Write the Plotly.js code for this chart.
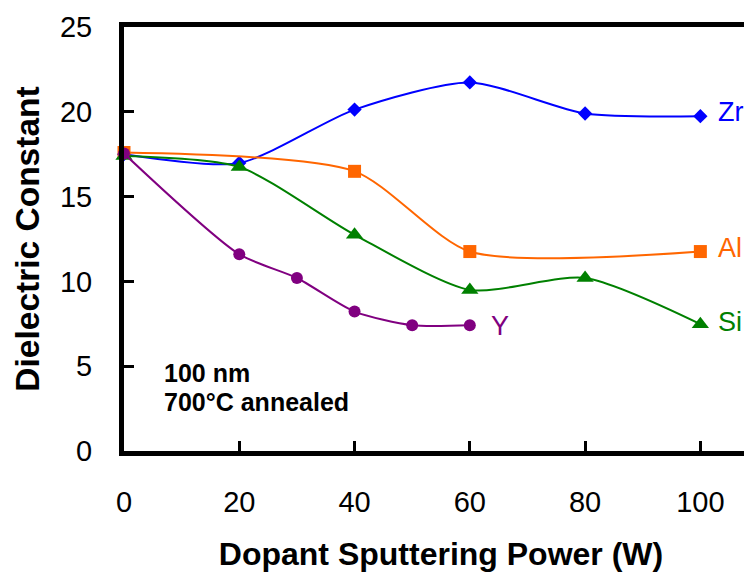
<!DOCTYPE html>
<html>
<head>
<meta charset="utf-8">
<script src="https://cdn.plot.ly/plotly-3.0.1.min.js"></script>
<style>
html, body { margin: 0; padding: 0; overflow: hidden; background: #fff; }
#chart { width: 770px; height: 575px; }
</style>
</head>
<body>
<div id="chart"></div>
<script>
// Data
const zrX = [0, 20, 40, 60, 80, 100];
const zrY = [17.5, 16.98, 20.13, 21.73, 19.9, 19.74];
const alX = [0, 40, 60, 100];
const alY = [17.6, 16.49, 11.76, 11.76];
const siX = [0, 20, 40, 60, 80, 100];
const siY = [17.4, 16.75, 12.75, 9.5, 10.2, 7.48];
const yX = [0, 20, 30, 40, 50, 60];
const yY = [17.54, 11.6, 10.2, 8.22, 7.42, 7.42];

const seriesNames = ['Zr', 'Al', 'Si', 'Y'];
const xTickVals = [0, 20, 40, 60, 80, 100];
const yTickVals = [0, 5, 10, 15, 20, 25];

const FONT = '"Liberation Sans", Arial, sans-serif';
const colors = { Zr: '#0000FF', Al: '#FF6600', Si: '#008000', Y: '#800080' };

function trace(name, x, y, symbol, size) {
  return {
    type: 'scatter', mode: 'lines+markers', name: name, x: x, y: y,
    line: { color: colors[name], width: 2, shape: 'spline', smoothing: 0.7 },
    marker: { color: colors[name], symbol: symbol, size: size },
    cliponaxis: false, showlegend: false, hoverinfo: 'x+y'
  };
}

const data = [
  trace('Zr', zrX, zrY, 'diamond', 11),
  trace('Al', alX, alY, 'square', 13),
  trace('Si', siX, siY, 'triangle-up', 15),
  trace('Y', yX, yY, 'circle', 12)
];

const layout = {
  width: 770, height: 575,
  margin: { l: 124, r: 12, t: 27, b: 124 },
  paper_bgcolor: '#fff', plot_bgcolor: '#fff',
  font: { family: FONT, color: '#000' },
  showlegend: false,
  xaxis: {
    range: [0, 110], tickvals: xTickVals, ticktext: xTickVals.map(String),
    showgrid: false, zeroline: false,
    showline: true, linecolor: '#000', linewidth: 5, mirror: true,
    ticks: 'inside', ticklen: 10, tickwidth: 3, tickcolor: '#000',
    tickfont: { size: 29, family: FONT, color: '#000' },
    ticklabelstandoff: 21,
    title: { text: '<b>Dopant Sputtering Power (W)</b>', font: { size: 32, family: FONT, color: '#000' }, standoff: 27 }
  },
  yaxis: {
    range: [0, 25], tickvals: yTickVals, ticktext: yTickVals.map(String),
    showgrid: false, zeroline: false,
    showline: true, linecolor: '#000', linewidth: 5, mirror: true,
    ticks: 'inside', ticklen: 10, tickwidth: 3, tickcolor: '#000',
    tickfont: { size: 29, family: FONT, color: '#000' },
    ticklabelstandoff: 21,
    title: { text: '<b>Dielectric Constant</b>', font: { size: 33.5, family: FONT, color: '#000' }, standoff: 12 }
  },
  annotations: [
    { x: 102.7, y: 20.0, xref: 'x', yref: 'y', text: seriesNames[0], showarrow: false, xanchor: 'left', yanchor: 'middle', font: { size: 27, color: colors.Zr, family: FONT } },
    { x: 102.7, y: 11.95, xref: 'x', yref: 'y', text: seriesNames[1], showarrow: false, xanchor: 'left', yanchor: 'middle', font: { size: 27, color: colors.Al, family: FONT } },
    { x: 102.7, y: 7.6, xref: 'x', yref: 'y', text: seriesNames[2], showarrow: false, xanchor: 'left', yanchor: 'middle', font: { size: 27, color: colors.Si, family: FONT } },
    { x: 63.4, y: 7.36, xref: 'x', yref: 'y', text: seriesNames[3], showarrow: false, xanchor: 'left', yanchor: 'middle', font: { size: 27, color: colors.Y, family: FONT } },
    { x: 6.6, y: 4.6, xref: 'x', yref: 'y', text: '<b>100 nm</b>', showarrow: false, xanchor: 'left', yanchor: 'middle', font: { size: 25, color: '#000', family: FONT } },
    { x: 6.6, y: 2.88, xref: 'x', yref: 'y', text: '<b>700°C annealed</b>', showarrow: false, xanchor: 'left', yanchor: 'middle', font: { size: 25, color: '#000', family: FONT } }
  ]
};

Plotly.newPlot('chart', data, layout, { displayModeBar: false, staticPlot: true });
</script>
</body>
</html>
